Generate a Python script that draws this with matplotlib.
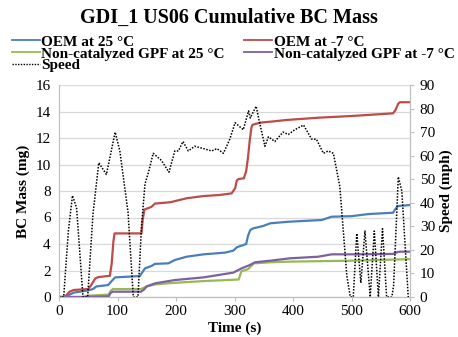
import matplotlib
matplotlib.use("Agg")
import matplotlib.pyplot as plt
from matplotlib.lines import Line2D

plt.rcParams['font.family'] = ['Liberation Serif', 'DejaVu Serif']

# ---- data ----
speed_t = [0, 8, 16, 23, 30, 41, 49, 58, 68, 81, 96, 104, 118, 127, 135, 141, 147, 153, 161, 175, 188,
           198, 204, 212, 221, 232, 247, 261, 270, 281, 292, 301, 315, 324, 327, 337, 342, 352, 358,
           369, 383, 392, 403, 418, 432, 440, 452, 460, 469, 480, 492, 498, 503, 509, 516, 523, 532,
           539, 546, 553, 560, 569, 572, 580, 586, 597, 600]
speed_v = [0, 0, 28, 43, 38, 0, 0, 35, 57, 52, 70, 62, 36, 0, 0, 30, 48, 53, 61, 58, 53,
           62, 62, 66, 62, 64, 63, 62, 63, 61, 67, 74, 71, 79, 76, 81, 75, 64, 68,
           66, 70, 69, 71, 73, 67, 67, 61, 62, 61, 47, 9, 0, 0, 27, 6, 28, 0,
           28, 0, 29, 0, 0, 5, 51, 45, 0, 0]

red_t = [0, 10, 18, 25, 50, 55, 62, 67, 87, 90, 93, 95, 141, 143, 146, 158, 164, 190, 218, 247, 275,
         295, 301, 304, 307, 316, 320, 323, 326, 329, 331, 344, 361, 389, 443, 500, 571, 575, 580, 583, 600]
red_v = [0, 0, 0.4, 0.53, 0.6, 0.9, 1.4, 1.5, 1.6, 2.5, 4.2, 4.8, 4.8, 5.8, 6.6, 6.8, 7.05, 7.15, 7.45,
         7.62, 7.7, 7.82, 8.2, 8.8, 8.9, 8.96, 9.5, 10.5, 11.8, 12.8, 13.0, 13.16, 13.23, 13.36, 13.53,
         13.66, 13.86, 14.1, 14.6, 14.7, 14.7]

blue_t = [0, 10, 25, 50, 58, 64, 84, 92, 96, 138, 143, 147, 158, 164, 187, 198, 218, 247, 284, 298,
          304, 307, 320, 323, 327, 332, 349, 361, 392, 449, 466, 500, 529, 571, 576, 580, 600]
blue_v = [0, 0, 0.33, 0.5, 0.6, 0.8, 0.9, 1.3, 1.48, 1.58, 1.9, 2.16, 2.34, 2.5, 2.54, 2.79, 3.04,
          3.22, 3.35, 3.5, 3.75, 3.8, 4.0, 4.6, 5.06, 5.18, 5.36, 5.56, 5.68, 5.81, 6.06, 6.1, 6.26,
          6.36, 6.7, 6.87, 6.94]

green_t = [0, 40, 50, 85, 88, 92, 140, 145, 150, 165, 190, 247, 307, 310, 312, 323, 330, 333, 361,
           395, 500, 586, 600]
green_v = [0, 0, 0.1, 0.18, 0.45, 0.6, 0.6, 0.7, 0.8, 0.95, 1.05, 1.2, 1.32, 1.7, 1.95, 2.1, 2.4,
           2.54, 2.62, 2.67, 2.74, 2.84, 2.86]

purple_t = [0, 40, 85, 88, 92, 140, 145, 150, 164, 198, 247, 298, 312, 326, 335, 361, 395, 443, 466,
            500, 571, 578, 583, 600]
purple_v = [0, 0, 0.05, 0.3, 0.4, 0.4, 0.55, 0.8, 1.03, 1.28, 1.48, 1.84, 2.16, 2.41, 2.62, 2.74,
            2.92, 3.04, 3.22, 3.22, 3.25, 3.38, 3.42, 3.42]

labels = ["OEM at 25 °C", "OEM at -7 °C", "Non-catalyzed GPF at 25 °C",
          "Non-catalyzed GPF at -7 °C", "Speed"]
colors = ["#4a7ebb", "#be4b48", "#98b954", "#7d60a0", "#000000"]

# ---- figure ----
fig = plt.figure(figsize=(4.58, 3.37), dpi=100)
ax = fig.add_axes([59/458, 1-297/337, 351/458, 212/337])
ax2 = ax.twinx()

lw = 1.6
ax.plot(blue_t, blue_v, color=colors[0], lw=lw)
ax.plot(red_t, red_v, color=colors[1], lw=lw)
ax.plot(green_t, green_v, color=colors[2], lw=lw)
ax.plot(purple_t, purple_v, color=colors[3], lw=lw)
ax2.plot(speed_t, speed_v, color=colors[4], lw=1.1, ls=(0, (1, 1)))

ax.set_xlim(0, 600)
ax.set_ylim(0, 16)
ax2.set_ylim(0, 90)
ax.set_xticks(range(0, 601, 100))
ax.set_yticks(range(0, 17, 2))
ax2.set_yticks(range(0, 91, 10))
ax.yaxis.grid(True, color="#d9d9d9", lw=0.9)
ax.set_axisbelow(True)

gray = "#bfbfbf"
for a in (ax, ax2):
    a.spines['top'].set_visible(False)
    for s in ('left', 'right', 'bottom'):
        a.spines[s].set_color(gray)
    a.tick_params(colors=gray, labelcolor="black", labelsize=11, length=3, width=0.8)
ax.tick_params(axis='y', length=0, pad=6)
ax2.tick_params(axis='y', length=3, pad=4)
ax.tick_params(axis='x', pad=3)

ax.set_xlabel("Time (s)", fontsize=11, fontweight="bold", labelpad=2)
ax.set_ylabel("BC Mass (mg)", fontsize=11, fontweight="bold", labelpad=4)
ax2.set_ylabel("Speed (mph)", fontsize=11, fontweight="bold", labelpad=3)

fig.text(0.5, 1-18/337, "GDI_1 US06 Cumulative BC Mass", ha="center", va="center",
         fontsize=14.5, fontweight="bold")

handles = [Line2D([], [], color=colors[0], lw=1.3),
           Line2D([], [], color=colors[2], lw=1.3),
           Line2D([], [], color=colors[4], lw=1.0, ls=(0, (1, 1))),
           Line2D([], [], color=colors[1], lw=1.3),
           Line2D([], [], color=colors[3], lw=1.3)]
leg_labels = [labels[0], labels[2], labels[4], labels[1], labels[3]]
fig.legend(handles, leg_labels, loc="upper left", bbox_to_anchor=(12/458, 1-35/337), ncol=2,
           frameon=False, prop={'weight': 'bold', 'size': 11}, handlelength=1.85,
           handletextpad=0.08, columnspacing=1.25, labelspacing=-0.12, borderaxespad=0,
           borderpad=0)

fig.savefig("out.png", dpi=100)
